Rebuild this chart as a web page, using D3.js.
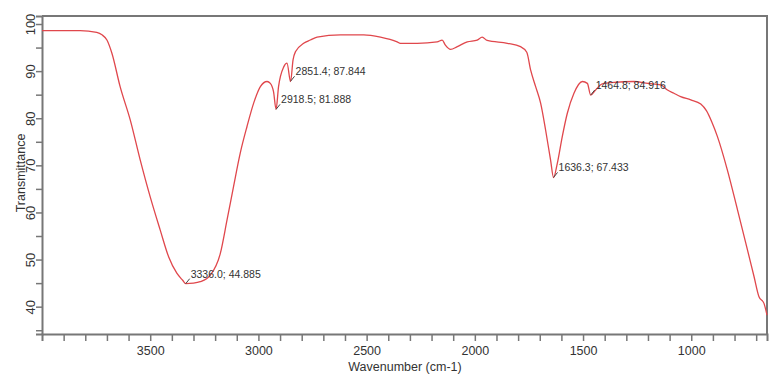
<!DOCTYPE html>
<html>
<head>
<meta charset="utf-8">
<script src="https://cdn.jsdelivr.net/npm/d3@7"></script>
<style>
  html, body { margin: 0; padding: 0; background: #fff; }
  svg { display: block; font-family: "Liberation Sans", Arial, sans-serif; }
</style>
</head>
<body>
<svg id="chart" width="782" height="382"></svg>
<script>
// ---- data ----
const wavenumber = [4000, 3900, 3824, 3747, 3723, 3700, 3677, 3639, 3592, 3546, 3500, 3454, 3415, 3377, 3350, 3336,
  3300, 3269, 3222, 3176, 3145, 3115, 3084, 3053, 3022, 2991, 2960, 2945, 2930, 2918.5, 2907, 2883, 2868, 2851.4,
  2840, 2829, 2791, 2760, 2729, 2621, 2513, 2436, 2359, 2344, 2266, 2174, 2151, 2136, 2112, 2081, 2035, 1989, 1966,
  1943, 1850, 1789, 1760, 1742, 1719, 1696, 1673, 1650, 1636.3, 1619, 1596, 1573, 1542, 1503, 1480, 1464.8, 1442,
  1411, 1357, 1265, 1200, 1141, 1110, 1080, 1049, 1002, 956, 930, 905, 879, 833, 786, 748, 710, 687, 664, 650];
const transmittance = [98.6, 98.6, 98.6, 98.2, 97.7, 96.6, 93.8, 86.7, 79.6, 71.1, 63.3, 56.3, 50.6, 47.1, 45.6, 44.9,
  45.0, 45.3, 46.7, 51.3, 58.4, 65.5, 72.6, 78.2, 83.2, 86.7, 87.8, 87.4, 85.6, 81.9, 86.7, 90.9, 91.7, 87.8,
  92.4, 94.1, 95.9, 96.6, 97.2, 97.7, 97.7, 97.2, 96.2, 95.9, 95.9, 96.2, 96.6, 95.5, 94.6, 95.2, 96.2, 96.6, 97.2,
  96.5, 95.9, 95.2, 94.0, 90.2, 86.7, 83.2, 77.5, 71.1, 67.4, 70.4, 76.1, 81.0, 85.3, 87.8, 87.4, 84.9, 86.0,
  87.3, 87.6, 87.8, 87.4, 87.1, 86.0, 85.3, 84.6, 83.9, 83.0, 81.6, 79.2, 76.1, 69.0, 60.5, 53.5, 46.4, 42.1, 40.7, 38.2];

const peakWn = [3336.0, 2918.5, 2851.4, 1636.3, 1464.8];
const peakT = [44.885, 81.888, 87.844, 67.433, 84.916];
const peakLabels = ["3336.0; 44.885", "2918.5; 81.888", "2851.4; 87.844", "1636.3; 67.433", "1464.8; 84.916"];

const xTicks = d3.range(3900, 650, -100);
const xLabelTicks = [3500, 3000, 2500, 2000, 1500, 1000];
const yTicks = d3.range(35, 101, 5);
const yLabelTicks = [40, 50, 60, 70, 80, 90, 100];

const xTitle = "Wavenumber (cm-1)";
const yTitle = "Transmittance";

// ---- layout ----
const svg = d3.select("#chart");
const L = 42, R = 767, T = 16, B = 334;
const x = d3.scaleLinear().domain([4000, 650]).range([L, R]);
const y = d3.scaleLinear().domain([34.2, 101.7]).range([B, T]);
const axisColor = "#777";
const textColor = "#333";

// frame (top/right)
svg.append("path")
  .attr("d", `M${L},${T}H${R}V${B}`)
  .attr("fill", "none").attr("stroke", axisColor).attr("stroke-width", 2);

// x axis
const gx = svg.append("g").attr("transform", `translate(0,${B})`)
  .call(d3.axisBottom(x).tickValues(xTicks).tickSize(7)
    .tickFormat(d => xLabelTicks.includes(d) ? String(d) : ""));
gx.select(".domain").attr("stroke", axisColor).attr("stroke-width", 2);
gx.selectAll(".tick line").attr("stroke", axisColor).attr("stroke-width", 1.5);
gx.selectAll(".tick text").attr("y", 21).attr("dy", 0)
  .attr("fill", textColor).style("font-size", "12.5px").attr("font-family", null);

// y axis
const gy = svg.append("g").attr("transform", `translate(${L},0)`)
  .call(d3.axisLeft(y).tickValues(yTicks).tickSize(6)
    .tickFormat(d => yLabelTicks.includes(d) ? String(d) : ""));
gy.select(".domain").attr("stroke", axisColor).attr("stroke-width", 2);
gy.selectAll(".tick line").attr("stroke", axisColor).attr("stroke-width", 1.5);
gy.selectAll(".tick text")
  .attr("transform", "rotate(-90)")
  .attr("x", 0).attr("y", -7).attr("dy", 0)
  .attr("text-anchor", "middle")
  .attr("fill", textColor).style("font-size", "13px").attr("font-family", null);

// titles
svg.append("text").attr("x", 405).attr("y", 371).attr("text-anchor", "middle")
  .attr("fill", textColor).style("font-size", "12.5px").text(xTitle);
svg.append("text").attr("transform", `translate(25,${(T + B) / 2 - 2}) rotate(-90)`)
  .attr("text-anchor", "middle").attr("fill", textColor).style("font-size", "12.5px").text(yTitle);

// spectrum
const pts = wavenumber.map((w, i) => [w, transmittance[i]]);
svg.append("path").datum(pts)
  .attr("fill", "none").attr("stroke", "#e0474c").attr("stroke-width", 1.3)
  .attr("stroke-linejoin", "round")
  .attr("d", d3.line().curve(d3.curveMonotoneX).x(d => x(d[0])).y(d => y(d[1])));

// peak annotations
peakWn.forEach((w, i) => {
  const px = x(w), py = y(peakT[i]);
  svg.append("line").attr("x1", px).attr("y1", py).attr("x2", px + 4).attr("y2", py - 5)
    .attr("stroke", "#444").attr("stroke-width", 1);
  svg.append("text").attr("x", px + 5).attr("y", py - 6)
    .attr("fill", textColor).style("font-size", "10.5px").text(peakLabels[i]);
});
</script>
</body>
</html>
